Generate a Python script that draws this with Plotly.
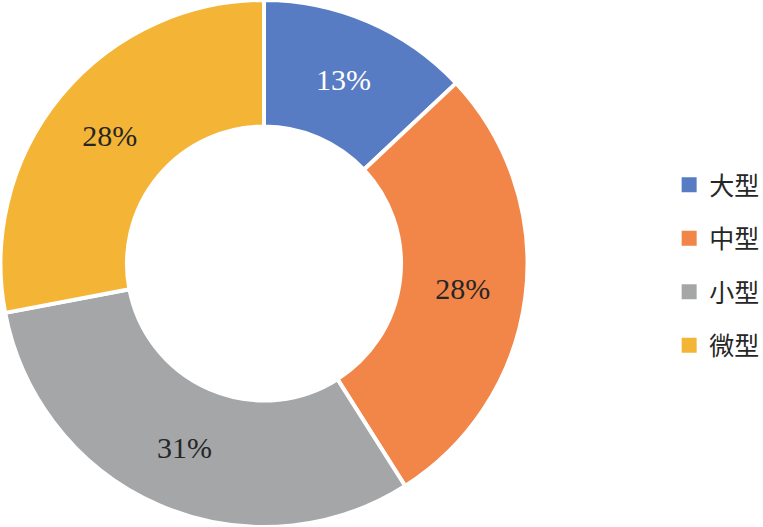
import plotly.graph_objects as go

labels = ["大型", "中型", "小型", "微型"]
values = [13, 28, 31, 28]
colors = ["#587CC4", "#F28548", "#A5A6A8", "#F4B536"]
text_colors = ["#FFFFFF", "#262626", "#262626", "#262626"]

fig = go.Figure()
fig.add_trace(go.Pie(
    labels=labels,
    values=values,
    hole=0.52,
    sort=False,
    direction="clockwise",
    rotation=0,
    marker=dict(colors=colors, line=dict(color="white", width=4)),
    textinfo="percent",
    textposition="inside",
    insidetextorientation="horizontal",
    textfont=dict(family="Liberation Serif", size=30, color=text_colors),
    domain=dict(x=[0, 0.692], y=[0, 1]),
    showlegend=False,
))

for lab, col in zip(labels, colors):
    fig.add_trace(go.Scatter(
        x=[None], y=[None], mode="markers", name=lab,
        marker=dict(symbol="square", size=15, color=col),
        legendgroup=lab, showlegend=True,
    ))

fig.update_layout(
    width=763, height=527,
    margin=dict(l=0, r=0, t=0, b=0, autoexpand=False),
    paper_bgcolor="white", plot_bgcolor="white",
    xaxis=dict(visible=False), yaxis=dict(visible=False),
    legend=dict(
        x=0.877, y=0.497, xanchor="left", yanchor="middle",
        font=dict(family="Noto Sans CJK SC", size=25, color="#262626"),
        tracegroupgap=18, traceorder="grouped",
        bgcolor="rgba(0,0,0,0)",
    ),
)

fig.write_html("out.html", config={"displayModeBar": False},
               post_script="document.body.style.margin='0';")
